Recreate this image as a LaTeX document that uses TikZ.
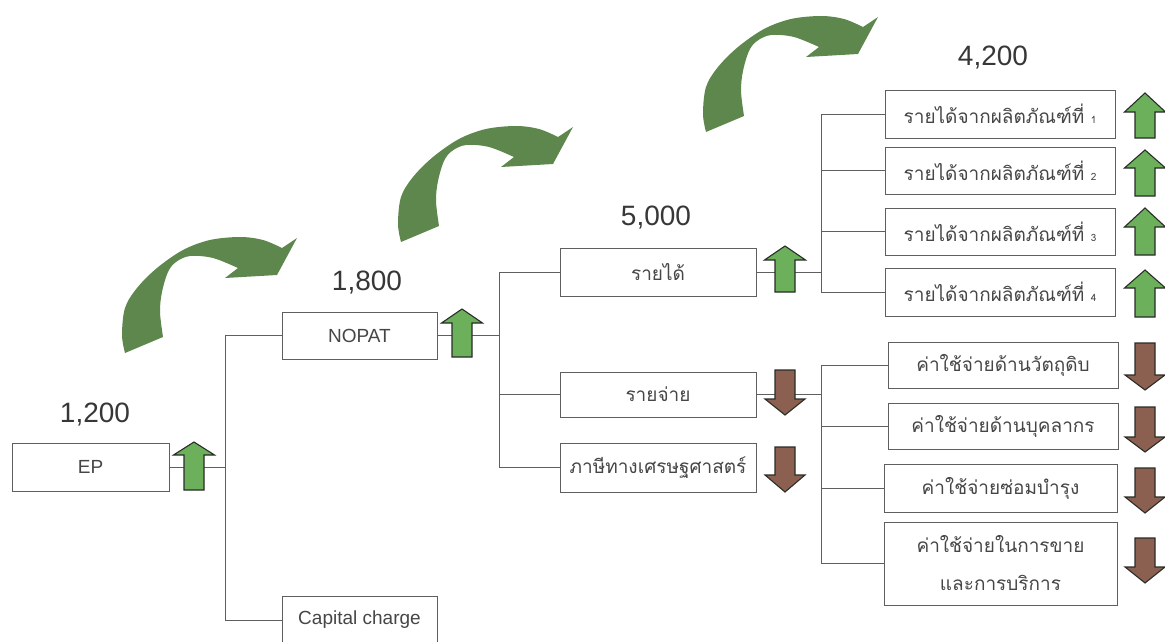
\documentclass[tikz,border=0pt]{standalone}
\usepackage{fontspec}
\setmainfont{Liberation Sans}
\newfontfamily\thaifont[Script=Thai]{Loma}
\definecolor{boxgray}{RGB}{95,95,95}
\definecolor{txtgray}{RGB}{70,70,70}
\definecolor{numgray}{RGB}{55,55,55}
\definecolor{curvgreen}{RGB}{94,135,78}
\definecolor{upgreen}{RGB}{108,176,92}
\definecolor{dnbrown}{RGB}{140,96,80}
\definecolor{arrdark}{RGB}{40,45,40}
\newcommand\myUpArr[4]{%
  \draw[upar] (#1-10,#4) -- (#1-10,#3) -- (#1-20.5,#3) -- (#1,#2) -- (#1+20.5,#3) -- (#1+10,#3) -- (#1+10,#4) -- cycle;}
\newcommand\myDnArr[4]{%
  \draw[dnar] (#1-10,#2) -- (#1-10,#3) -- (#1-20,#3) -- (#1,#4) -- (#1+20,#3) -- (#1+10,#3) -- (#1+10,#2) -- cycle;}
\newcommand\myCurv[2]{%
  \begin{scope}[shift={(#1,#2)}]
  \fill[curvgreen] plot[smooth, tension=0.55] coordinates {(125,353) (122,335) (125,308) (137,288) (157,268) (183,250) (210,240) (240,237) (263,240) (282,248)}
    -- (297,238) -- (277,275) -- (225,278) -- (238,268)
    -- plot[smooth, tension=0.55] coordinates {(238,268) (213,258) (190,256) (176,262) (168,272) (162,292) (160,312) (163,337)}
    -- cycle;
  \end{scope}}
\tikzset{
  box/.style={draw=boxgray, line width=0.9pt, fill=white, inner sep=0pt, align=center, text=txtgray},
  conn/.style={draw=boxgray, line width=0.9pt},
  num/.style={font=\fontsize{28}{30}\selectfont, text=numgray, inner sep=0pt},
  latin/.style={font=\fontsize{19}{22}\selectfont},
  thaitxt/.style={font=\thaifont\fontsize{19}{24}\selectfont},
  upar/.style={fill=upgreen, draw=arrdark, line width=1.1pt, line join=miter},
  dnar/.style={fill=dnbrown, draw=arrdark, line width=1.1pt, line join=miter},
}
\newcommand\smd[1]{{\fontsize{10}{10}\selectfont #1}}
\begin{document}
\begin{tikzpicture}[x=1pt, y=-1pt]
\useasboundingbox (0,0) rectangle (1165,642);
\fill[white] (0,0) rectangle (1165,642);

% curved arrows
\myCurv{0}{0}
\myCurv{276}{-111}
\myCurv{581}{-221}

% junction coordinates
\coordinate (j1) at (225,0);
\coordinate (j2) at (499,0);
\coordinate (j3) at (821,0);

% boxes
\node[box, latin, minimum width=157pt, minimum height=48pt] (ep) at (90.5,467) {EP};
\node[box, latin, minimum width=155pt, minimum height=47pt] (nopat) at (359.5,335.5) {NOPAT};
\node[box, latin, minimum width=155pt, minimum height=48pt] (cc) at (359.5,620) {Capital charge};
\node[box, thaitxt, minimum width=196pt, minimum height=48pt] (rev) at (658,272) {รายได้};
\node[box, thaitxt, minimum width=196pt, minimum height=45pt] (exp) at (658,394.5) {รายจ่าย};
\node[box, thaitxt, minimum width=196pt, minimum height=49pt] (tax) at (658,467.5) {ภาษีทางเศรษฐศาสตร์};
\node[box, thaitxt, minimum width=230pt, minimum height=48pt] (r1) at (1000,114) {รายได้จากผลิตภัณฑ์ที่ \smd{1}};
\node[box, thaitxt, minimum width=230pt, minimum height=47pt] (r2) at (1000,170.5) {รายได้จากผลิตภัณฑ์ที่ \smd{2}};
\node[box, thaitxt, minimum width=230pt, minimum height=47pt] (r3) at (1000,231.5) {รายได้จากผลิตภัณฑ์ที่ \smd{3}};
\node[box, thaitxt, minimum width=230pt, minimum height=48pt] (r4) at (1000,292) {รายได้จากผลิตภัณฑ์ที่ \smd{4}};
\node[box, thaitxt, minimum width=230pt, minimum height=46pt] (c1) at (1003,365) {ค่าใช้จ่ายด้านวัตถุดิบ};
\node[box, thaitxt, minimum width=230pt, minimum height=46pt] (c2) at (1003,426) {ค่าใช้จ่ายด้านบุคลากร};
\node[box, thaitxt, minimum width=233pt, minimum height=48pt] (c3) at (1000.5,488) {ค่าใช้จ่ายซ่อมบำรุง};
\node[box, thaitxt, font=\thaifont\fontsize{19}{38}\selectfont, minimum width=233pt, minimum height=83pt] (c4) at (1000.5,563.5) {ค่าใช้จ่ายในการขาย\\และการบริการ};

% connectors
\draw[conn] (ep.east) -- (ep.east -| j1);
\draw[conn] (nopat.west) -- (nopat.west -| j1) -- (cc.west -| j1) -- (cc.west);
\draw[conn] (nopat.east) -- (nopat.east -| j2);
\draw[conn] (rev.west) -- (rev.west -| j2) -- (tax.west -| j2) -- (tax.west);
\draw[conn] (exp.west) -- (exp.west -| j2);
\draw[conn] (rev.east) -- (rev.east -| j3);
\draw[conn] (r1.west) -- (r1.west -| j3) -- (r4.west -| j3) -- (r4.west);
\draw[conn] (r2.west) -- (r2.west -| j3);
\draw[conn] (r3.west) -- (r3.west -| j3);
\draw[conn] (exp.east) -- (exp.east -| j3);
\draw[conn] (c1.west) -- (c1.west -| j3) -- (c4.west -| j3) -- (c4.west);
\draw[conn] (c2.west) -- (c2.west -| j3);
\draw[conn] (c3.west) -- (c3.west -| j3);

% numbers
\node[num] (n1) at (95,415) {1,200};
\node[num] (n2) at (367,283) {1,800};
\node[num] (n3) at (656,218) {5,000};
\node[num] (n4) at (993,58) {4,200};

% small arrows
\myUpArr{194}{442}{455}{490}
\myUpArr{462}{309}{323}{357}
\myUpArr{785}{246}{260}{292}
\myUpArr{1145}{93}{112}{138}
\myUpArr{1145}{150}{168}{196}
\myUpArr{1145}{208}{227}{255}
\myUpArr{1145}{270}{288}{317}
\myDnArr{785}{370}{399}{415}
\myDnArr{785}{447}{475}{492}
\myDnArr{1145}{343}{375}{390}
\myDnArr{1145}{407}{437}{452}
\myDnArr{1145}{468}{497}{513}
\myDnArr{1145}{538}{567}{583}
\end{tikzpicture}
\end{document}
